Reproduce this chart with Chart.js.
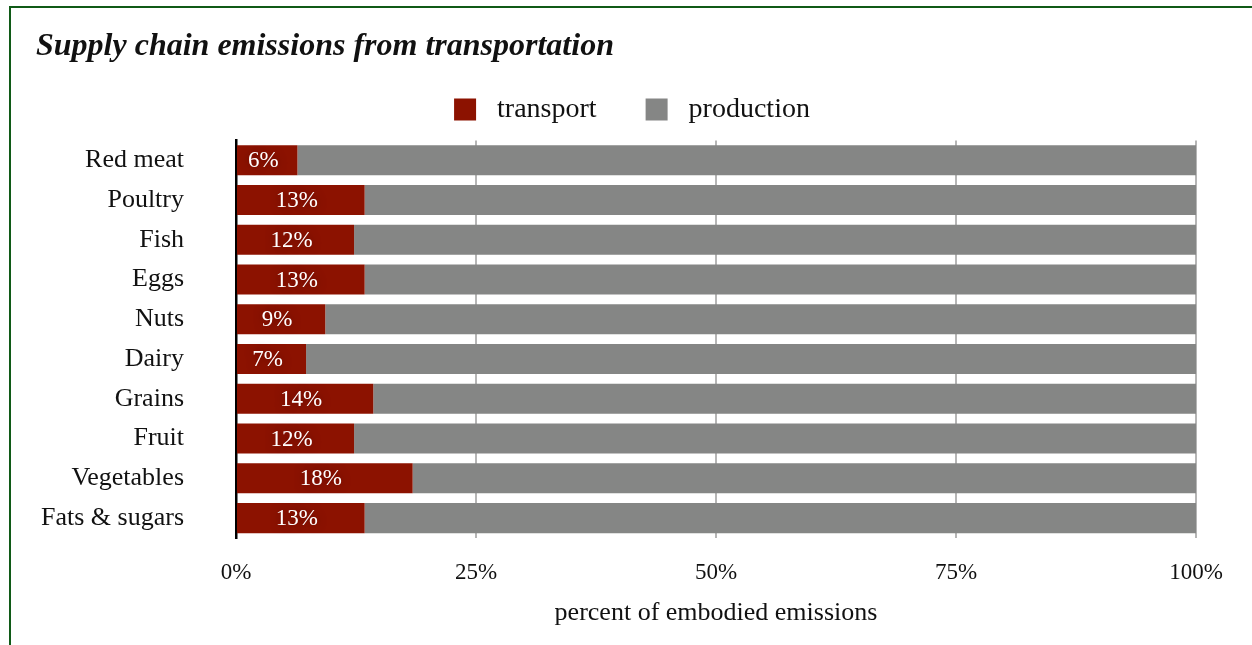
<!DOCTYPE html>
<html>
<head>
<meta charset="utf-8">
<title>Supply chain emissions from transportation</title>
<script src="https://cdn.jsdelivr.net/npm/chart.js@4/dist/chart.umd.min.js"></script>
<style>
  html, body { margin: 0; padding: 0; background: #fff; }
  #wrap { position: relative; width: 1252px; height: 645px; overflow: hidden; }
  #frame {
    position: absolute; left: 9px; top: 6px; width: 1300px; height: 700px;
    border-left: 2px solid #105a17; border-top: 2px solid #105a17;
    pointer-events: none;
  }
</style>
</head>
<body>
<div id="wrap">
  <div id="frame"></div>
  <canvas id="emissionsChart"></canvas>
</div>
<script>
// data
const categories = ['Red meat', 'Poultry', 'Fish', 'Eggs', 'Nuts', 'Dairy', 'Grains', 'Fruit', 'Vegetables', 'Fats & sugars'];
const transport = [6.4, 13.4, 12.3, 13.4, 9.3, 7.3, 14.3, 12.3, 18.4, 13.4];
const production = [93.6, 86.6, 87.7, 86.6, 90.7, 92.7, 85.7, 87.7, 81.6, 86.6];
const xTicks = [0, 25, 50, 75, 100];

const serif = "'Liberation Serif', 'Times New Roman', serif";

// white percent labels inside the red segments
const segmentLabels = {
    id: 'segmentLabels',
    afterDatasetsDraw(chart) {
        const ctx = chart.ctx;
        const meta = chart.getDatasetMeta(0);
        ctx.save();
        ctx.font = '23px ' + serif;
        ctx.fillStyle = '#fff';
        ctx.textAlign = 'center';
        ctx.textBaseline = 'middle';
        ctx.shadowColor = 'rgba(70, 0, 0, 0.7)';
        ctx.shadowBlur = 8;
        meta.data.forEach((bar, i) => {
            const p = bar.getProps(['x', 'y', 'base'], true);
            ctx.fillText(Math.round(transport[i]) + '%', (p.x + p.base) / 2 - 4, p.y + 1);
        });
        ctx.restore();
    }
};

// a bit more room under the legend, and nudge it right
const legendGap = {
    id: 'legendGap',
    beforeInit(chart) {
        const legend = chart.legend;
        if (!legend) return;
        const fit = legend.fit;
        legend.fit = function () {
            fit.call(this);
            this.height += 7;
        };
    },
    afterLayout(chart) {
        if (!chart.legend) return;
        chart.legend.left += 16;
        chart.legend.right += 16;
    }
};

const ctx = document.getElementById('emissionsChart').getContext('2d');
const chart = new Chart(ctx, {
    type: 'bar',
    data: {
        labels: categories,
        datasets: [{
            label: 'transport',
            data: transport,
            backgroundColor: '#8c1200',
            borderWidth: 0,
            barPercentage: 0.755,
            categoryPercentage: 1
        }, {
            label: 'production',
            data: production,
            backgroundColor: '#858685',
            borderWidth: 0,
            barPercentage: 0.755,
            categoryPercentage: 1
        }]
    },
    plugins: [segmentLabels, legendGap],
    options: {
        indexAxis: 'y',
        responsive: true,
        maintainAspectRatio: false,
        animation: false,
        layout: {
            padding: { left: 36, right: 56, top: 0, bottom: 0 }
        },
        scales: {
            x: {
                stacked: true,
                min: 0,
                max: 100,
                afterBuildTicks: (scale) => {
                    scale.ticks = xTicks.map(v => ({ value: v }));
                },
                afterFit: (scale) => { scale.height = 107; },
                grid: {
                    color: '#b5b5b5',
                    lineWidth: 2,
                    drawTicks: false
                },
                border: { display: false },
                ticks: {
                    padding: 21,
                    color: '#111',
                    font: { family: serif, size: 23 },
                    callback: (v) => v + '%'
                },
                title: {
                    display: true,
                    text: 'percent of embodied emissions',
                    color: '#111',
                    font: { family: serif, size: 26 },
                    padding: { top: 16, bottom: 16 }
                }
            },
            y: {
                stacked: true,
                afterFit: (scale) => { scale.width = 200; },
                grid: { display: false, drawTicks: false },
                border: { display: true, color: '#000', width: 2.5 },
                ticks: {
                    padding: 52,
                    color: '#111',
                    font: { family: serif, size: 26 }
                }
            }
        },
        plugins: {
            title: {
                display: true,
                text: 'Supply chain emissions from transportation',
                align: 'start',
                color: '#111',
                font: { family: serif, size: 32, style: 'italic', weight: 'bold' },
                padding: { top: 28, bottom: 1 }
            },
            legend: {
                display: true,
                position: 'top',
                labels: {
                    boxWidth: 22,
                    boxHeight: 22,
                    padding: 28,
                    color: '#111',
                    font: { family: serif, size: 28 },
                    generateLabels: (c) => Chart.defaults.plugins.legend.labels.generateLabels(c)
                        .map((item, i) => Object.assign(item, { text: ' ' + item.text + (i === 0 ? '   ' : '') }))
                }
            },
            tooltip: { enabled: false }
        }
    }
});
</script>
</body>
</html>
